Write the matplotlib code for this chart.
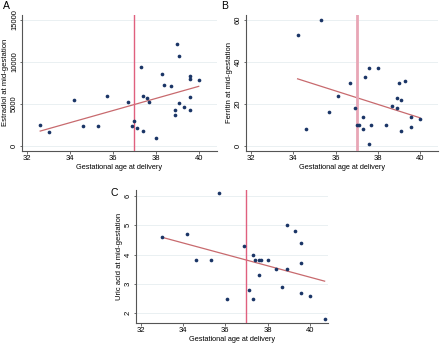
import numpy as np
import matplotlib
matplotlib.use('Agg')
from matplotlib import pyplot as plt

plt.rcParams['font.family'] = ['Liberation Sans', 'DejaVu Sans']

# A: estradiol vs gestational age
ga_a = [32.6, 33.0, 34.2, 34.6, 35.3, 35.7, 36.7, 36.9, 37.0, 37.1, 37.3, 37.4, 37.4, 37.6, 37.7,
        38.0, 38.3, 38.4, 38.7, 38.9, 38.9, 39.0, 39.1, 39.1, 39.3, 39.6, 39.6, 39.6, 39.6, 40.0]
estradiol = [2470, 1700, 5500, 2350, 2400, 5950, 5270, 2430, 3030, 2150, 9400, 5950, 1830, 5700, 5300,
             960, 8580, 7260, 7180, 4230, 3670, 12100, 10770, 5100, 4670, 8380, 7980, 5860, 4310, 7860]

# B: ferritin vs gestational age
ga_b = [34.2, 34.6, 35.3, 35.7, 36.1, 36.7, 36.9, 37.0, 37.1, 37.3, 37.3, 37.4, 37.6, 37.6,
        37.7, 38.0, 38.4, 38.7, 38.9, 38.9, 39.0, 39.1, 39.1, 39.3, 39.6, 39.6, 40.0]
ferritin = [53, 8, 60, 16, 24, 30, 18, 10, 10, 14, 8, 33, 37, 1.2,
            10, 37, 10, 19, 23, 18, 30, 22, 7, 31, 14, 9, 13]

# C: uric acid vs gestational age
ga_c = [33.0, 34.2, 34.6, 35.3, 35.7, 36.1, 36.9, 37.1, 37.3, 37.3, 37.4, 37.6, 37.7, 37.6,
        38.0, 38.4, 38.7, 38.9, 38.9, 39.3, 39.6, 39.6, 39.6, 40.0, 40.7]
uric_acid = [4.6, 4.7, 3.8, 3.8, 6.1, 2.5, 4.3, 2.8, 4.0, 2.5, 3.8, 3.8, 3.8, 3.3,
             3.8, 3.5, 2.9, 5.0, 3.5, 4.8, 4.4, 3.7, 2.7, 2.6, 1.8]

xticks = [32, 34, 36, 38, 40]

fig = plt.figure(figsize=(4.4, 3.43), dpi=100)


def panel(rect, x, y, yticks, ylim, ylabel, cut_color, cut_lw):
    ax = fig.add_axes(rect)
    x = np.array(x)
    y = np.array(y)
    ax.set_xlim(31.75, 40.85)
    ax.set_ylim(*ylim)
    ax.set_xticks(xticks)
    ax.set_yticks(yticks)
    ax.grid(axis='y', color='#e6eef0', lw=0.6)
    ax.set_axisbelow(True)
    # linear fit over the observed range
    b, a = np.polyfit(x, y, 1)
    xs = np.array([x.min(), x.max()])
    ax.plot(xs, a + b * xs, color='#c86a6e', lw=0.9, zorder=2)
    ax.axvline(37, color=cut_color, lw=cut_lw, zorder=3)
    ax.scatter(x, y, s=7, color='#1a3566', zorder=4, linewidths=0)
    for s in ['top', 'right']:
        ax.spines[s].set_visible(False)
    for s in ['left', 'bottom']:
        ax.spines[s].set_color('#555555')
        ax.spines[s].set_linewidth(0.8)
    ax.tick_params(labelsize=5.5, length=1.8, width=0.6, color='#555555', pad=1)
    for lab in ax.get_yticklabels():
        lab.set_rotation(90)
        lab.set_va('center')
    ax.set_xlabel('Gestational age at delivery', fontsize=5.3, labelpad=1.5)
    ax.set_ylabel(ylabel, fontsize=5.5, labelpad=1.5)
    return ax


panel([0.05, 0.5606, 0.443, 0.3956], ga_a, estradiol, [0, 5000, 10000, 15000], (-560, 15600),
      'Estradiol at mid-gestation', '#e0607e', 1.0)
panel([0.559, 0.5606, 0.436, 0.3956], ga_b, ferritin, [0, 20, 40, 60], (-2.2, 62.4),
      'Ferritin at mid-gestation', '#e8a6b6', 2.0)
panel([0.308, 0.0592, 0.437, 0.387], ga_c, uric_acid, [2, 3, 4, 5, 6], (1.68, 6.2),
      'Uric acid at mid-gestation', '#e0607e', 1.0)

fig.text(0.006, 0.997, 'A', fontsize=7.5, va='top')
fig.text(0.503, 0.997, 'B', fontsize=7.5, va='top')
fig.text(0.252, 0.452, 'C', fontsize=7.5, va='top')

plt.savefig('out.png', dpi=100)
